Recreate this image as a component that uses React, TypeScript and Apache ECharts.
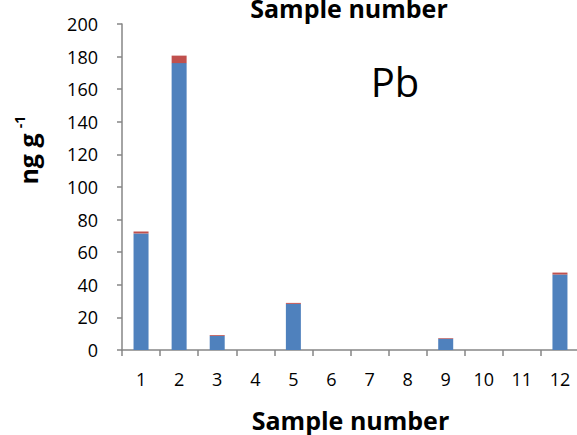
import React, { useEffect, useRef } from "react";
import * as echarts from "echarts";

const categories = ["1", "2", "3", "4", "5", "6", "7", "8", "9", "10", "11", "12"];
const blueValues = [71.5, 176, 8.7, 0, 28.3, 0, 0, 0, 6.9, 0, 0, 46.3];
const redValues = [1.2, 4.6, 0.5, 0, 0.6, 0, 0, 0, 0.4, 0, 0, 1.2];
const yMin = 0;
const yMax = 200;
const yInterval = 20;

const AXIS_COLOR = "#868686";
const FONT = "Open Sans";

export default function App() {
  const ref = useRef<HTMLDivElement>(null);
  useEffect(() => {
    if (!ref.current) return;
    const chart = echarts.init(ref.current, null, { renderer: "svg" });
    chart.setOption({
      animation: false,
      backgroundColor: "#ffffff",
      grid: {
        left: 122,
        right: -2,
        top: 24,
        bottom: 85,
        containLabel: false,
        outerBoundsMode: "none",
      },
      xAxis: {
        type: "category",
        data: categories,
        name: "Sample number",
        nameLocation: "middle",
        nameGap: 57,
        nameTextStyle: { fontFamily: FONT, fontWeight: "bold", fontSize: 25, color: "#000" },
        axisLine: { lineStyle: { color: AXIS_COLOR, width: 1.5 } },
        axisTick: { show: true, length: 6, lineStyle: { color: AXIS_COLOR, width: 1.5 } },
        axisLabel: { fontFamily: FONT, fontSize: 18, color: "#000", margin: 20 },
      },
      yAxis: {
        type: "value",
        min: yMin,
        max: yMax,
        interval: yInterval,
        axisLine: { show: true, lineStyle: { color: AXIS_COLOR, width: 1.5 } },
        axisTick: { show: true, length: 5, lineStyle: { color: AXIS_COLOR, width: 1.5 } },
        splitLine: { show: false },
        axisLabel: { fontFamily: FONT, fontSize: 18, color: "#000", margin: 24 },
      },
      series: [
        {
          type: "bar",
          stack: "pb",
          data: blueValues,
          barWidth: 15,
          itemStyle: { color: "#4F81BD" },
        },
        {
          type: "bar",
          stack: "pb",
          data: redValues,
          barWidth: 15,
          itemStyle: { color: "#C0504D" },
        },
      ],
      graphic: [
        {
          type: "text",
          x: 349,
          y: 8,
          style: {
            text: "Sample number",
            fontFamily: FONT,
            fontWeight: "bold",
            fontSize: 25,
            fill: "#000",
            align: "center",
            verticalAlign: "middle",
          },
        },
        {
          type: "text",
          x: 395,
          y: 81,
          style: {
            text: "Pb",
            fontFamily: FONT,
            fontSize: 40,
            fill: "#000",
            align: "center",
            verticalAlign: "middle",
          },
        },
        {
          type: "text",
          x: 28,
          y: 159,
          rotation: Math.PI / 2,
          style: {
            text: "ng g",
            fontFamily: FONT,
            fontWeight: "bold",
            fontSize: 25,
            fill: "#000",
            align: "center",
            verticalAlign: "middle",
          },
        },
        {
          type: "text",
          x: 19,
          y: 122,
          rotation: Math.PI / 2,
          style: {
            text: "-1",
            fontFamily: FONT,
            fontWeight: "bold",
            fontSize: 14,
            fill: "#000",
            align: "center",
            verticalAlign: "middle",
          },
        },
      ],
    });
    return () => chart.dispose();
  }, []);
  return (
    <div
      ref={ref}
      style={{ position: "fixed", left: 0, top: 0, width: 577, height: 435 }}
    />
  );
}
